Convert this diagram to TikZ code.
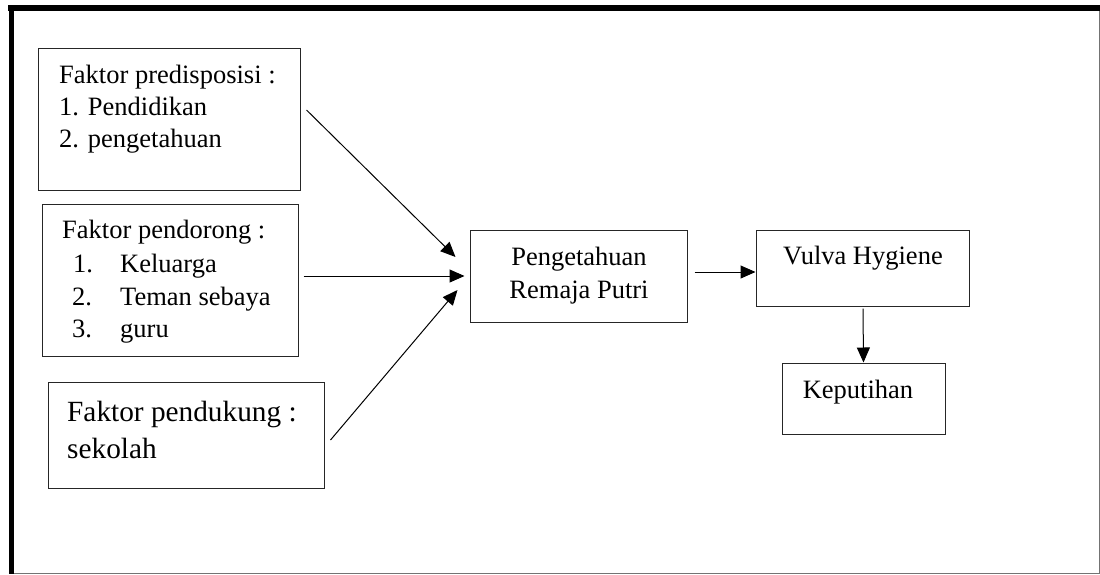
\documentclass[tikz,border=0pt]{standalone}
\usepackage{fontspec}
\setmainfont{Liberation Serif}
\usetikzlibrary{arrows.meta,calc}
\tikzset{
  box/.style={draw=black!85, line width=1pt, rectangle, inner sep=0pt},
  txt/.style={inner sep=0pt, anchor=base west, font=\fontsize{26.5}{32}\selectfont},
  ctxt/.style={inner sep=0pt, anchor=base, font=\fontsize{26.5}{32}\selectfont},
  bigtxt/.style={inner sep=0pt, anchor=base west, font=\fontsize{29.3}{37}\selectfont},
  arr/.style={line width=1pt, -{Triangle[length=15pt,width=13pt]}},
}
\begin{document}
\begin{tikzpicture}[x=1pt,y=-1pt]
\useasboundingbox (0,0) rectangle (1100,574);
% frame
\draw[black!55, line width=1pt] (11,573) -- (1099,573) -- (1099,8);
\draw[black, line width=6pt] (8,8) -- (1100,8);
\draw[black, line width=5pt] (11,5) -- (11,574);
% boxes
\node[box, minimum width=262pt, minimum height=142pt] (b1) at (169,119) {};
\node[box, minimum width=256pt, minimum height=152pt] (b2) at (170,280) {};
\node[box, minimum width=276pt, minimum height=106pt] (b3) at (186,435) {};
\node[box, minimum width=217pt, minimum height=92pt] (P) at (578.5,276) {};
\node[box, minimum width=213pt, minimum height=76pt] (V) at (862.5,268) {};
\node[box, minimum width=163pt, minimum height=71pt] (K) at (863.5,398.5) {};
% texts
\node[txt] (t1a) at (59,83) {Faktor predisposisi :};
\node[txt] (t1b) at (59,115) {1. Pendidikan};
\node[txt] (t1c) at (59,147) {2. pengetahuan};
\node[txt] (t2a) at (62,238) {Faktor pendorong :};
\node[txt] (t2b) at (73,272) {1.};
\node[txt] (t2c) at (120,272) {Keluarga};
\node[txt] (t2d) at (72,305) {2.};
\node[txt] (t2e) at (120,305) {Teman sebaya};
\node[txt] (t2f) at (72,337) {3.};
\node[txt] (t2g) at (120,337) {guru};
\node[bigtxt] (t3a) at (67,421) {Faktor pendukung :};
\node[bigtxt] (t3b) at (67,458) {sekolah};
\node[ctxt] (tPa) at (579,265) {Pengetahuan};
\node[ctxt] (tPb) at (579,298) {Remaja Putri};
\node[ctxt] (tV) at (863,264) {Vulva Hygiene};
\node[ctxt] (tK) at (858,398) {Keputihan};
% arrows
\draw[arr] ($(b1.east)+(6,-9)$) -- ($(P.west)+(-14,-19)$);
\draw[arr] ($(b2.east)+(5,-4)$) -- ($(P.west)+(-5,0)$);
\draw[arr] ($(b3.east)+(6,5)$) -- ($(P.west)+(-12,14)$);
\draw[arr] ($(P.east)+(7,-4)$) -- ($(V.west)+(0,4)$);
\draw[arr] ($(V.south)+(0.5,2)$) -- (K.north);
\end{tikzpicture}
\end{document}
